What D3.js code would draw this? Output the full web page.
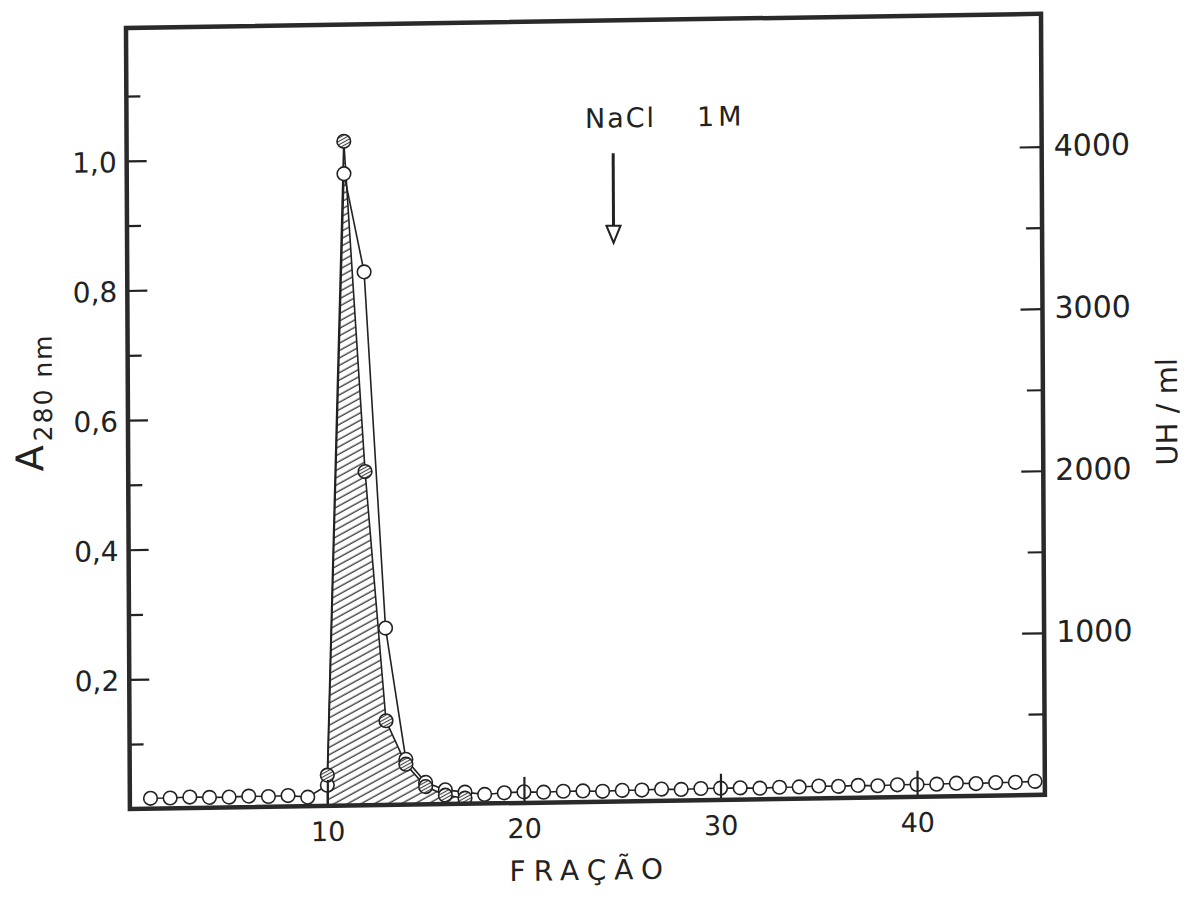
<!DOCTYPE html>
<html>
<head>
<meta charset="utf-8">
<script src="https://cdn.jsdelivr.net/npm/d3@7"></script>
<style>
  html, body { margin: 0; padding: 0; background: #fff; }
  svg { display: block; }
  text { font-family: "DejaVu Sans", sans-serif; fill: #222; }
</style>
</head>
<body>
<div id="chart"></div>
<script>
/* fractions collected (x) */
const fractions = [1, 2, 3, 4, 5, 6, 7, 8, 9, 10, 11, 12, 13, 14, 15, 16, 17, 18, 19, 20,
                   21, 22, 23, 24, 25, 26, 27, 28, 29, 30, 31, 32, 33, 34, 35, 36, 37, 38, 39, 40,
                   41, 42, 43, 44, 45, 46];
/* A 280 nm, open circles */
const a280 = [0.016, 0.016, 0.017, 0.016, 0.016, 0.017, 0.016, 0.017, 0.014, 0.032,
              0.975, 0.823, 0.273, 0.070, 0.034, 0.022, 0.018, 0.014, 0.016, 0.017,
              0.016, 0.017, 0.017, 0.016, 0.017, 0.017, 0.018, 0.017, 0.018, 0.018,
              0.018, 0.017, 0.018, 0.018, 0.019, 0.018, 0.019, 0.018, 0.019, 0.019,
              0.019, 0.020, 0.019, 0.020, 0.020, 0.021];
/* UH / ml, hatched circles + hatched area */
const uhFractions = [10, 11, 12, 13, 14, 15, 16, 17];
const uhValues = [190, 4100, 2060, 520, 250, 110, 55, 35];

/* ticks */
const leftMajor = [0.2, 0.4, 0.6, 0.8, 1.0];
const leftMinor = [0.1, 0.3, 0.5, 0.7, 0.9, 1.1];
const rightMajor = [1000, 2000, 3000, 4000];
const rightMinor = [500, 1500, 2500, 3500];
const xTicks = [10, 20, 30, 40];

/* NaCl 1M arrow position (fraction) and its extent on the A280 scale */
const naclFraction = 24.7;
const naclArrow = [1.0, 0.862];

const W = 1191, H = 906;
const pLeft = 126, pRight = 1041, pTop = 28, pBottom = 809;

const svg = d3.select('#chart').append('svg')
  .attr('width', W).attr('height', H);
svg.append('rect').attr('width', W).attr('height', H).attr('fill', '#fff');

// the scanned page is slightly skewed
const g = svg.append('g')
  .attr('transform', 'matrix(1,-0.0155,0.005,1,-0.14,1.95)');

const x = d3.scaleLinear().domain([-0.05, 46.5]).range([pLeft, pRight]);
const y = d3.scaleLinear().domain([0, 1.205]).range([pBottom, pTop]);
const yR = d3.scaleLinear().domain([0, 4820]).range([pBottom, pTop]);

const defs = svg.append('defs');
const hatch = defs.append('pattern')
  .attr('id', 'hatch').attr('patternUnits', 'userSpaceOnUse')
  .attr('width', 12).attr('height', 6.5)
  .attr('patternTransform', 'rotate(-28)');
hatch.append('line').attr('x1', 0).attr('x2', 12).attr('y1', 3).attr('y2', 3)
  .attr('stroke', '#333').attr('stroke-width', 1.3);

const hatchDot = defs.append('pattern')
  .attr('id', 'hatchDot').attr('patternUnits', 'userSpaceOnUse')
  .attr('width', 6).attr('height', 3)
  .attr('patternTransform', 'rotate(-28)');
hatchDot.append('rect').attr('width', 6).attr('height', 3).attr('fill', '#fff');
hatchDot.append('line').attr('x1', 0).attr('x2', 6).attr('y1', 1.5).attr('y2', 1.5)
  .attr('stroke', '#444').attr('stroke-width', 1.1);

const uhData = uhFractions.map((f, i) => ({ f: f, v: uhValues[i] }));
const aData = fractions.map((f, i) => ({ f: f, v: a280[i] }));

// hatched area (UH/ml)
const area = d3.area()
  .x(d => x(d.f))
  .y0(yR(0))
  .y1(d => yR(d.v));
g.append('path')
  .datum(uhData)
  .attr('d', area)
  .attr('fill', 'url(#hatch)')
  .attr('stroke', '#222')
  .attr('stroke-width', 1.6);

// A280 line
const line = d3.line().x(d => x(d.f)).y(d => y(d.v));
g.append('path')
  .datum(aData)
  .attr('d', line)
  .attr('fill', 'none')
  .attr('stroke', '#222')
  .attr('stroke-width', 1.6);

g.selectAll('circle.a280')
  .data(aData)
  .join('circle')
  .attr('class', 'a280')
  .attr('cx', d => x(d.f))
  .attr('cy', d => y(d.v))
  .attr('r', 6.8)
  .attr('fill', '#fff')
  .attr('stroke', '#222')
  .attr('stroke-width', 1.6);

g.selectAll('circle.uh')
  .data(uhData)
  .join('circle')
  .attr('class', 'uh')
  .attr('cx', d => x(d.f))
  .attr('cy', d => yR(d.v))
  .attr('r', 6.8)
  .attr('fill', 'url(#hatchDot)')
  .attr('stroke', '#222')
  .attr('stroke-width', 1.6);

// axes
const styleAxis = (sel, size) => {
  sel.select('.domain').remove();
  sel.selectAll('.tick line').attr('stroke', '#222').attr('stroke-width', 2.2);
  sel.selectAll('text').attr('font-family', '"DejaVu Sans", sans-serif')
    .attr('font-size', size).attr('fill', '#222');
};
const comma = d => d3.format('.1f')(d).replace('.', ',');

g.append('g').attr('transform', `translate(${pLeft},0)`)
  .call(d3.axisLeft(y).tickValues(leftMajor).tickSize(-20).tickPadding(10).tickFormat(comma))
  .call(s => styleAxis(s, 28))
  .selectAll('text').attr('dy', '0.38em');
g.append('g').attr('transform', `translate(${pLeft},0)`)
  .call(d3.axisLeft(y).tickValues(leftMinor).tickSize(-14).tickFormat(''))
  .call(s => styleAxis(s, 28));

g.append('g').attr('transform', `translate(${pRight},0)`)
  .call(d3.axisRight(yR).tickValues(rightMajor).tickSize(-22).tickPadding(12).tickFormat(d3.format('d')))
  .call(s => styleAxis(s, 30))
  .selectAll('text').attr('dy', '0.3em');
g.append('g').attr('transform', `translate(${pRight},0)`)
  .call(d3.axisRight(yR).tickValues(rightMinor).tickSize(-16).tickFormat(''))
  .call(s => styleAxis(s, 30));

g.append('g').attr('transform', `translate(0,${pBottom})`)
  .call(d3.axisBottom(x).tickValues(xTicks).tickSize(-26).tickPadding(16).tickFormat(d3.format('d')))
  .call(s => styleAxis(s, 27));

// frame
g.append('rect')
  .attr('x', pLeft).attr('y', pTop)
  .attr('width', pRight - pLeft).attr('height', pBottom - pTop)
  .attr('fill', 'none').attr('stroke', '#2a2a2a').attr('stroke-width', 4.5);

// axis titles
const yTitle = g.append('text')
  .attr('transform', 'translate(41,470) rotate(-90)');
yTitle.append('tspan').attr('font-size', 38).text('A');
yTitle.append('tspan').attr('font-size', 25).attr('dx', 4).attr('dy', 9)
  .attr('letter-spacing', 2).text('280 nm');

g.append('text')
  .attr('transform', 'translate(1175,428) rotate(-90)')
  .attr('text-anchor', 'middle')
  .attr('font-size', 29)
  .text('UH / ml');

g.append('text')
  .attr('x', 586).attr('y', 887)
  .attr('text-anchor', 'middle')
  .attr('font-size', 28)
  .attr('letter-spacing', 8)
  .text('FRAÇÃO');

// NaCl 1M arrow
const ax = x(naclFraction);
const tip = y(naclArrow[1]);
g.append('text').attr('x', ax - 28).attr('y', 135).attr('font-size', 27)
  .attr('letter-spacing', 2).text('NaCl');
g.append('text').attr('x', ax + 84).attr('y', 135).attr('font-size', 27)
  .attr('letter-spacing', 4).text('1M');
g.append('line')
  .attr('x1', ax).attr('x2', ax)
  .attr('y1', y(naclArrow[0])).attr('y2', tip - 12)
  .attr('stroke', '#222').attr('stroke-width', 3);
g.append('path')
  .attr('d', `M${ax - 7},${tip - 17}L${ax + 7},${tip - 17}L${ax},${tip}Z`)
  .attr('fill', '#fff').attr('stroke', '#222').attr('stroke-width', 2);
</script>
</body>
</html>
